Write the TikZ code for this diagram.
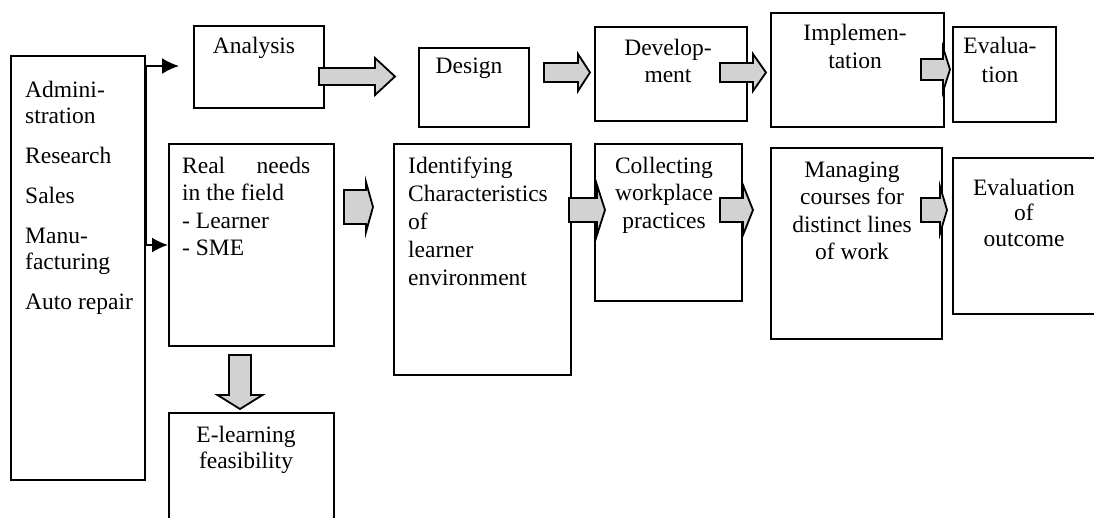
\documentclass[tikz,border=0pt]{standalone}
\usepackage{fontspec}
\setmainfont{Liberation Serif}
\usetikzlibrary{arrows.meta}
\newcommand\mkbox[5]{\node[box, anchor=north west, minimum width={#4-#2}, minimum height={#5-#3}] (#1) at (#2,#3) {};}
\begin{document}
\begin{tikzpicture}[x=1pt,y=-1pt,
  box/.style={draw, line width=1.9pt, inner sep=0pt, fill=white},
  txt/.style={inner sep=0pt, font=\fontsize{23.5}{27.5}\selectfont},
  blockarrow/.style={draw, line width=1.8pt, fill=gray!35, line join=miter},
  feed/.style={line width=1.9pt},
  pics/barrow/.style n args={4}{code={
    \draw[blockarrow] (0,-#2) -- ({#1-#4},-#2) -- ({#1-#4},-#3) -- (#1,0)
      -- ({#1-#4},#3) -- ({#1-#4},#2) -- (0,#2) -- cycle;
  }}
]
\useasboundingbox (0,0) rectangle (1094,517);
\clip (0,0) rectangle (1094,517);

% boxes
\mkbox{admin}{10}{55}{144}{479}
\mkbox{analysis}{193}{25}{323}{107}
\mkbox{design}{418}{47}{528}{126}
\mkbox{dev}{594}{26}{746}{120}
\mkbox{impl}{770}{12}{943}{126}
\mkbox{eval}{952}{26}{1055}{121}
\mkbox{needs}{168}{143}{333}{345}
\mkbox{ident}{393}{143}{570}{374}
\mkbox{collect}{594}{143}{741}{300}
\mkbox{manage}{770}{147}{941}{338}
\mkbox{outcome}{952}{157}{1110}{313}
\mkbox{elearn}{168}{412}{333}{540}

% feed lines from the sector list
\coordinate (busTop) at (146,66);
\coordinate (busBot) at (146,245);
\coordinate (analysisIn) at (179,66);
\coordinate (needsIn) at (168,245);
\draw[feed] (busTop) -- (busBot);
\draw[feed, -{Latex[length=17pt,width=16pt]}] (busTop) -- (analysisIn);
\draw[feed, -{Latex[length=16pt,width=15pt]}] (busBot) -- (needsIn);

% block arrows
\pic (a1) at (319,76.5) {barrow={76}{8.5}{18.5}{20}};
\pic (a2) at (544,72.5) {barrow={46}{9.5}{18.5}{12}};
\pic (a3) at (720,72.5) {barrow={46}{9.5}{18.5}{13}};
\pic (a4) at (921,69.5) {barrow={29}{10.5}{22}{7}};
\pic (a5) at (344,207) {barrow={29}{17}{25}{7}};
\pic (a6) at (569,210) {barrow={36}{12}{25}{8}};
\pic (a7) at (720,210) {barrow={33}{12}{25}{10}};
\pic (a8) at (921,210) {barrow={26}{12}{23.5}{7}};
\pic[rotate=-90] (a9) at (240,355) {barrow={54}{11}{22.5}{14}};

% texts
\node[txt, font=\fontsize{23.5}{26}\selectfont, anchor=base west] (adminT) at (25,97)
  {\parbox[t]{118pt}{\raggedright Admini-\\stration\\[14pt]Research\\[14pt]Sales\\[14pt]Manu-\\facturing\\[14pt]Auto repair}};
\node[txt, anchor=base] (analysisT) at (254,53) {Analysis};
\node[txt, anchor=base] (designT) at (469,73) {Design};
\node[txt, font=\fontsize{23.5}{27}\selectfont, anchor=base] (devT) at (668,55)
  {\parbox[t]{140pt}{\centering Develop-\\ment}};
\node[txt, font=\fontsize{23.5}{28}\selectfont, anchor=base] (implT) at (855,40)
  {\parbox[t]{160pt}{\centering Implemen-\\tation}};
\node[txt, font=\fontsize{23.5}{29}\selectfont, anchor=base] (evalT) at (1000,53)
  {\parbox[t]{100pt}{\centering Evalua-\\tion}};
\node[txt, anchor=base west] (needsT) at (182,173)
  {\parbox[t]{140pt}{\hbox to 128pt{Real\hfill needs}in the field\\- Learner\\- SME}};
\node[txt, font=\fontsize{23.5}{28}\selectfont, anchor=base west] (identT) at (408,173)
  {\parbox[t]{160pt}{\raggedright Identifying\\Characteristics\\of\\learner\\environment}};
\node[txt, font=\fontsize{23.5}{27.5}\selectfont, anchor=base] (collectT) at (664,173)
  {\parbox[t]{140pt}{\centering Collecting\\workplace\\practices}};
\node[txt, font=\fontsize{23.5}{27.5}\selectfont, anchor=base] (manageT) at (852,177)
  {\parbox[t]{165pt}{\centering Managing\\courses for\\distinct lines\\of work}};
\node[txt, font=\fontsize{23.5}{25.5}\selectfont, anchor=base] (outcomeT) at (1024,195)
  {\parbox[t]{130pt}{\centering Evaluation\\of\\outcome}};
\node[txt, font=\fontsize{23.5}{26}\selectfont, anchor=base] (elearnT) at (246,442)
  {\parbox[t]{150pt}{\centering E-learning\\feasibility}};
\end{tikzpicture}
\end{document}
